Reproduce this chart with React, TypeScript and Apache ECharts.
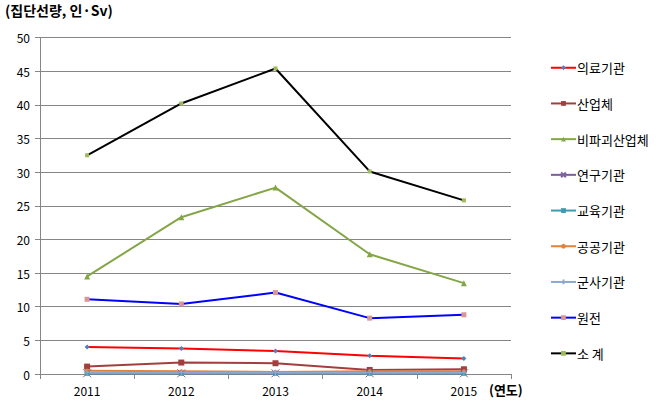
import React, { useEffect, useRef } from "react";
import * as echarts from "echarts";

const years = ["2011", "2012", "2013", "2014", "2015"];
const medical = [4.0, 3.8, 3.4, 2.7, 2.3];
const industry = [1.1, 1.7, 1.6, 0.6, 0.7];
const ndt = [14.5, 23.3, 27.7, 17.8, 13.5];
const research = [0.1, 0.1, 0.1, 0.1, 0.1];
const education = [0.1, 0.1, 0.1, 0.1, 0.1];
const publicInst = [0.5, 0.4, 0.3, 0.4, 0.4];
const military = [0.2, 0.2, 0.2, 0.2, 0.2];
const nuclear = [11.1, 10.4, 12.1, 8.3, 8.8];
const total = [32.5, 40.2, 45.4, 30.1, 25.8];

const seriesDefs = [
  { name: "의료기관", data: medical, line: "#FF0000", mark: "#4F81BD", symbol: "diamond", size: 5 },
  { name: "산업체", data: industry, line: "#A0403E", mark: "#A0403E", symbol: "rect", size: 6 },
  { name: "비파괴산업체", data: ndt, line: "#84A646", mark: "#84A646", symbol: "triangle", size: 6 },
  { name: "연구기관", data: research, line: "#7A5E9A", mark: "#8064A2", symbol: "path://M0,0L10,10M10,0L0,10", size: 8 },
  { name: "교육기관", data: education, line: "#3E9AB2", mark: "#3E9AB2", symbol: "rect", size: 5 },
  { name: "공공기관", data: publicInst, line: "#E0823A", mark: "#E0823A", symbol: "circle", size: 4 },
  { name: "군사기관", data: military, line: "#8EA9D0", mark: "#8EA9D0", symbol: "path://M5,0L5,10M0,5L10,5", size: 6 },
  { name: "원전", data: nuclear, line: "#0000FF", mark: "#D99694", symbol: "rect", size: 5 },
  { name: "소 계", data: total, line: "#000000", mark: "#9BBB59", symbol: "rect", size: 4 },
];

export default function App() {
  const ref = useRef<HTMLDivElement>(null);
  useEffect(() => {
    if (!ref.current) return;
    const chart = echarts.init(ref.current, undefined, { renderer: "svg" });
    const font = "'Noto Sans CJK KR', 'Noto Sans', sans-serif";
    chart.setOption({
      animation: false,
      textStyle: { fontFamily: font },
      grid: { left: 40, right: 147, top: 37.5, bottom: 33, containLabel: false },
      xAxis: {
        type: "category",
        data: years,
        boundaryGap: true,
        axisLine: { lineStyle: { color: "#868686", width: 1 } },
        axisTick: { show: true, interval: 0, length: 5, lineStyle: { color: "#868686" } },
        axisLabel: { color: "#000", fontSize: 12, margin: 10, fontFamily: font },
      },
      yAxis: {
        type: "value",
        min: 0,
        max: 50,
        interval: 5,
        axisLine: { show: true, lineStyle: { color: "#868686", width: 1 } },
        axisTick: { show: true, length: 5, lineStyle: { color: "#868686" } },
        axisLabel: { color: "#000", fontSize: 12, margin: 10, fontFamily: font },
        splitLine: { show: true, lineStyle: { color: "#868686", width: 1 } },
      },
      legend: {
        orient: "vertical",
        left: 550,
        top: 59,
        padding: 0,
        itemWidth: 25,
        itemHeight: 6,
        itemGap: 18.2,
        textStyle: { color: "#000", fontSize: 13, fontFamily: font, padding: [0, 0, 0, -4], lineHeight: 17.5 },
        data: seriesDefs.map((s) => s.name),
      },
      graphic: [
        {
          type: "text",
          left: 5,
          top: 3,
          style: { text: "(집단선량, 인·Sv)", font: `bold 14px ${font}`, fill: "#000" },
        },
        {
          type: "text",
          left: 489,
          top: 383,
          style: { text: "(연도)", font: `bold 13px ${font}`, fill: "#000" },
        },
      ],
      series: seriesDefs.map((s) => ({
        name: s.name,
        type: "line",
        data: s.data,
        symbol: s.symbol,
        symbolSize: s.size,
        showSymbol: true,
        lineStyle: { color: s.line, width: 2 },
        itemStyle: { color: s.mark, borderColor: s.mark, borderWidth: s.symbol.startsWith("path") ? 1 : 0 },
        emphasis: { disabled: true },
      })),
    });
    return () => chart.dispose();
  }, []);
  return (
    <div
      ref={ref}
      style={{ position: "absolute", left: 0, top: 0, width: 658, height: 407, background: "#fff" }}
    />
  );
}
